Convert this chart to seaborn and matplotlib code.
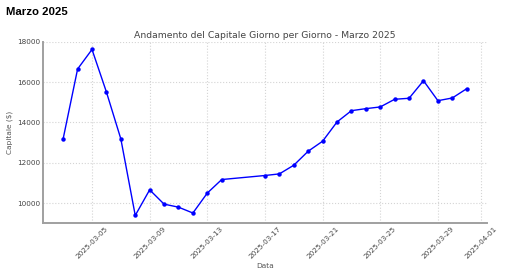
import matplotlib
matplotlib.use("Agg")
import matplotlib.pyplot as plt
import seaborn as sns
import pandas as pd
import numpy as np

dates = ["2025-03-03", "2025-03-04", "2025-03-05", "2025-03-06", "2025-03-07",
         "2025-03-08", "2025-03-09", "2025-03-10", "2025-03-11", "2025-03-12",
         "2025-03-13", "2025-03-14", "2025-03-17", "2025-03-18", "2025-03-19",
         "2025-03-20", "2025-03-21", "2025-03-22", "2025-03-23", "2025-03-24",
         "2025-03-25", "2025-03-26", "2025-03-27", "2025-03-28", "2025-03-29",
         "2025-03-30", "2025-03-31"]
capitale = [13200, 16650, 17620, 15510, 13185,
            9390, 10660, 9950, 9800, 9510,
            10500, 11170, 11370, 11450, 11880,
            12575, 13070, 14025, 14585, 14685,
            14770, 15150, 15200, 16070, 15080,
            15215, 15675]

df = pd.DataFrame({"Data": pd.to_datetime(dates), "Capitale": capitale})

sns.set_style("whitegrid", {"grid.linestyle": ":", "grid.color": "#d4d4d4"})
plt.rcParams["font.family"] = ["DejaVu Sans"]

fig = plt.figure(figsize=(5.12, 2.75), dpi=100)
ax = fig.add_axes([0.084, 0.188, 0.867, 0.66])

sns.lineplot(data=df, x="Data", y="Capitale", ax=ax, color="blue",
             marker="o", markersize=3.2, markeredgewidth=0, linewidth=1)

ax.set_title("Andamento del Capitale Giorno per Giorno - Marzo 2025",
             fontsize=6.7, color="#444444", pad=3)
ax.set_xlabel("Data", fontsize=5.3, color="#555555", labelpad=2)
ax.set_ylabel("Capitale ($)", fontsize=5.3, color="#555555", labelpad=3)
ax.set_ylim(9000, 18000)
ax.set_yticks([10000, 12000, 14000, 16000, 18000])

for s in ["top", "right"]:
    ax.spines[s].set_visible(False)
for s in ["left", "bottom"]:
    ax.spines[s].set_color("#a0a0a0")
    ax.spines[s].set_linewidth(1.4)

ax.tick_params(axis="both", direction="in", length=2, width=0.8, color="#a0a0a0",
               labelsize=5.2, labelcolor="#444444", pad=2)
plt.setp(ax.get_xticklabels(), rotation=45)

fig.text(0.012, 0.945, "Marzo 2025", fontsize=8.2, fontweight="bold",
         family=["Liberation Sans", "DejaVu Sans"], color="black")

fig.savefig("out.png", dpi=100)
